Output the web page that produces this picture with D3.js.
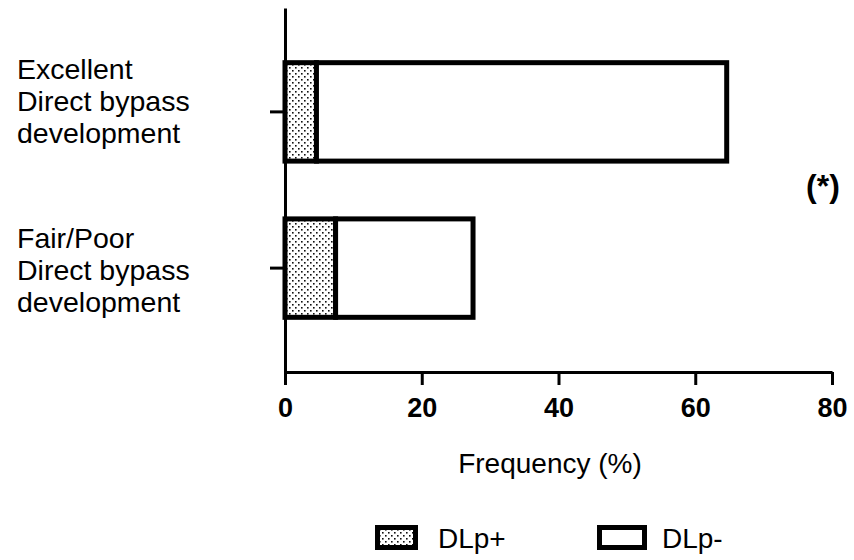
<!DOCTYPE html>
<html>
<head>
<meta charset="utf-8">
<script src="https://cdn.jsdelivr.net/npm/d3@7"></script>
<style>
  body { margin: 0; background: #fff; }
  svg { font-family: "Liberation Sans", Arial, sans-serif; }
</style>
</head>
<body>
<svg id="chart" width="854" height="560"></svg>
<script>
var categories = ["Excellent|Direct bypass|development", "Fair/Poor|Direct bypass|development"];
var seriesNames = ["DLp+", "DLp-"];
var dlpPlus = [4.6, 7.4];
var dlpMinus = [60.0, 20.1];
var xTicks = [0, 20, 40, 60, 80];

var svg = d3.select("#chart");

var x = d3.scaleLinear().domain([0, 80]).range([285, 832]);
var y = d3.scaleBand().domain(categories).range([8, 372])
    .paddingInner(0.37).paddingOuter(0.35);

// dotted fill
var defs = svg.append("defs");
var pat = defs.append("pattern")
    .attr("id", "dots")
    .attr("patternUnits", "userSpaceOnUse")
    .attr("width", 6).attr("height", 6);
pat.append("rect").attr("width", 6).attr("height", 6).attr("fill", "#fff");
pat.append("rect").attr("x", 1).attr("y", 1).attr("width", 1.6).attr("height", 1.6).attr("fill", "#111");
pat.append("rect").attr("x", 4).attr("y", 4).attr("width", 1.6).attr("height", 1.6).attr("fill", "#111");

var fills = ["url(#dots)", "#fff"];

var table = categories.map(function (c, i) {
    return { cat: c, "DLp+": dlpPlus[i], "DLp-": dlpMinus[i] };
});
var stacked = d3.stack().keys(seriesNames)(table);

// bars
stacked.forEach(function (layer, k) {
    svg.append("g").selectAll("rect")
        .data(layer)
        .enter().append("rect")
        .attr("x", function (d) { return x(d[0]); })
        .attr("y", function (d) { return y(d.data.cat); })
        .attr("width", function (d) { return x(d[1]) - x(d[0]); })
        .attr("height", y.bandwidth())
        .attr("fill", fills[k])
        .attr("stroke", "#000")
        .attr("stroke-width", 5);
});

// x axis
var xAxis = svg.append("g")
    .attr("transform", "translate(0,372)")
    .call(d3.axisBottom(x).tickValues(xTicks).tickSize(13).tickPadding(13).tickSizeOuter(0));
xAxis.select(".domain").attr("stroke-width", 3);
xAxis.selectAll(".tick line").attr("stroke-width", 3);
xAxis.selectAll(".tick text")
    .attr("font-size", 27).attr("font-weight", "bold")
    .attr("font-family", "Liberation Sans, Arial, sans-serif")
    .attr("fill", "#000");

// y axis
var yAxis = svg.append("g")
    .attr("transform", "translate(285,0)")
    .call(d3.axisLeft(y).tickSize(15).tickSizeOuter(0).tickFormat(""));
yAxis.select(".domain").attr("stroke-width", 3);
yAxis.selectAll(".tick line").attr("stroke-width", 3);

// category labels (first baseline offset from band centre)
var labelShift = [-33, -20];
categories.forEach(function (c, k) {
    var lines = c.split("|");
    var cy = y(c) + y.bandwidth() / 2 + labelShift[k];
    var t = svg.append("text")
        .attr("font-size", 28.5)
        .attr("fill", "#000");
    lines.forEach(function (ln, i) {
        t.append("tspan")
            .attr("x", 17)
            .attr("y", cy + i * 32)
            .text(ln);
    });
});

// axis title
svg.append("text")
    .attr("x", 550)
    .attr("y", 473)
    .attr("text-anchor", "middle")
    .attr("font-size", 28)
    .text("Frequency (%)");

// significance marker
svg.append("text")
    .attr("x", 823)
    .attr("y", 197)
    .attr("text-anchor", "middle")
    .attr("font-size", 32)
    .attr("font-weight", "bold")
    .text("(*)");

// legend
var legendX = [377.5, 599.5];
var legendW = [38, 45];
var legendTextX = [438, 662];
seriesNames.forEach(function (s, i) {
    svg.append("rect")
        .attr("x", legendX[i]).attr("y", 527.5)
        .attr("width", legendW[i]).attr("height", 20)
        .attr("fill", fills[i])
        .attr("stroke", "#000").attr("stroke-width", 5);
    svg.append("text")
        .attr("x", legendTextX[i]).attr("y", 548)
        .attr("font-size", 28)
        .text(s);
});
</script>
</body>
</html>
